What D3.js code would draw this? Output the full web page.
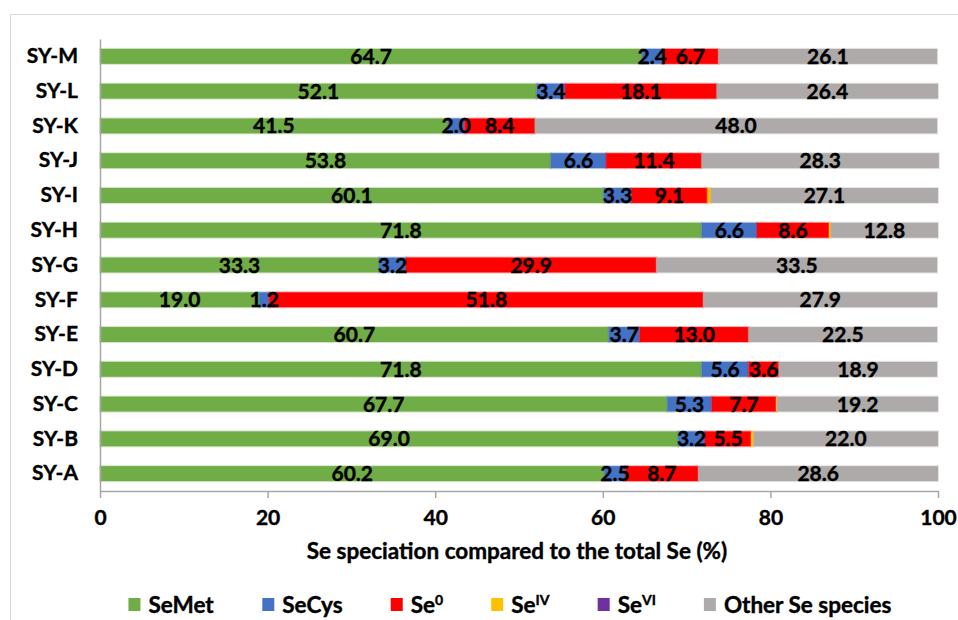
<!DOCTYPE html>
<html>
<head>
<meta charset="utf-8">
<script src="https://cdn.jsdelivr.net/npm/d3@7"></script>
<style>
  body { margin: 0; background: #fff; }
  text { font-family: Lato, "Open Sans", sans-serif; font-weight: bold; }
</style>
</head>
<body>
<svg id="chart"></svg>
<script>
// samples, top to bottom as drawn
const categories = ["SY-M", "SY-L", "SY-K", "SY-J", "SY-I", "SY-H", "SY-G", "SY-F", "SY-E", "SY-D", "SY-C", "SY-B", "SY-A"];

// % of total Se, one value per sample (same order as categories)
const seMet   = [64.7, 52.1, 41.5, 53.8, 60.1, 71.8, 33.3, 19.0, 60.7, 71.8, 67.7, 69.0, 60.2];
const seCys   = [2.4, 3.4, 2.0, 6.6, 3.3, 6.6, 3.2, 1.2, 3.7, 5.6, 5.3, 3.2, 2.5];
const se0     = [6.7, 18.1, 8.4, 11.4, 9.1, 8.6, 29.9, 51.8, 13.0, 3.6, 7.7, 5.5, 8.7];
const seIV    = [0, 0, 0, 0, 0.4, 0.2, 0, 0, 0, 0, 0.1, 0.3, 0];
const seVI    = [0, 0, 0, 0, 0, 0, 0, 0, 0, 0, 0, 0, 0];
const otherSe = [26.1, 26.4, 48.0, 28.3, 27.1, 12.8, 33.5, 27.9, 22.5, 18.9, 19.2, 22.0, 28.6];

const xTicks = [0, 20, 40, 60, 80, 100];
const xLabel = "Se speciation compared to the total Se (%)";

// series: key, legend label (base + superscript), colour, values
const series = [
  {key: "SeMet", base: "SeMet", sup: "", color: "#70ad47", values: seMet},
  {key: "SeCys", base: "SeCys", sup: "", color: "#4472c4", values: seCys},
  {key: "Se0", base: "Se", sup: "0", color: "#ff0000", values: se0},
  {key: "SeIV", base: "Se", sup: "IV", color: "#ffc000", values: seIV},
  {key: "SeVI", base: "Se", sup: "VI", color: "#7030a0", values: seVI},
  {key: "Other", base: "Other Se species", sup: "", color: "#aeaaaa", values: otherSe}
];

const width = 958, height = 620;
const marginTop = 39, marginRight = 20, marginBottom = 129, marginLeft = 100;
const fontSize = 21;

const svg = d3.select("#chart")
    .attr("width", width)
    .attr("height", height)
    .attr("viewBox", [0, 0, width, height]);

// chart area frame (only its top and left edges show)
svg.append("rect")
    .attr("x", 10.5).attr("y", 14.5)
    .attr("width", 1000).attr("height", 700)
    .attr("fill", "none")
    .attr("stroke", "#d9d9d9");

const x = d3.scaleLinear([0, 100], [marginLeft, width - marginRight]);
const y = d3.scaleBand(categories, [marginTop, height - marginBottom])
    .paddingInner(0.57)
    .paddingOuter(0.285);

// build stacked table
const table = categories.map((c, i) => {
  const row = {cat: c};
  series.forEach(s => row[s.key] = s.values[i]);
  return row;
});
const stacked = d3.stack().keys(series.map(s => s.key))(table);
const color = d3.scaleOrdinal(series.map(s => s.key), series.map(s => s.color));

svg.append("g")
  .selectAll("g")
  .data(stacked)
  .join("g")
    .attr("fill", d => color(d.key))
    .attr("stroke", d => color(d.key))
  .selectAll("rect")
  .data(d => d)
  .join("rect")
    .attr("x", d => x(d[0]))
    .attr("y", d => y(d.data.cat))
    .attr("width", d => Math.max(0, x(d[1]) - x(d[0])))
    .attr("height", y.bandwidth())
    .attr("stroke-opacity", 0.3)
    .attr("stroke-width", 2);

// value labels, centred in each segment (tiny ones hidden), drawn above all bars
svg.append("g")
  .selectAll("g")
  .data(stacked)
  .join("g")
  .selectAll("text")
  .data(d => d.filter(p => p[1] - p[0] >= 1))
  .join("text")
    .attr("x", d => (x(d[0]) + x(d[1])) / 2)
    .attr("y", d => y(d.data.cat) + y.bandwidth() / 2)
    .attr("dy", "0.36em")
    .attr("text-anchor", "middle")
    .attr("fill", "#000")
    .attr("stroke", "#000")
    .attr("stroke-width", 0.4)
    .attr("font-size", fontSize)
    .text(d => (d[1] - d[0]).toFixed(1));

// x axis
svg.append("g")
    .attr("transform", `translate(0,${height - marginBottom})`)
    .call(d3.axisBottom(x).tickValues(xTicks).tickSize(7).tickSizeOuter(0).tickPadding(12))
    .call(g => g.select(".domain").attr("stroke", "#a6a6a6").attr("stroke-width", 1.5))
    .call(g => g.selectAll(".tick line").attr("stroke", "#a6a6a6").attr("stroke-width", 1.5))
    .call(g => g.selectAll(".tick text")
        .attr("font-size", fontSize).attr("fill", "#000")
        .attr("stroke", "#000").attr("stroke-width", 0.4)
        .attr("font-family", "Lato, 'Open Sans', sans-serif"));

// y axis
svg.append("g")
    .attr("transform", `translate(${marginLeft},0)`)
    .call(d3.axisLeft(y).tickSize(0).tickPadding(22))
    .call(g => g.select(".domain").attr("stroke", "#a6a6a6").attr("stroke-width", 1.5))
    .call(g => g.selectAll(".tick text")
        .attr("font-size", fontSize).attr("fill", "#000")
        .attr("stroke", "#000").attr("stroke-width", 0.4)
        .attr("font-family", "Lato, 'Open Sans', sans-serif"));

svg.append("text")
    .attr("x", 517)
    .attr("y", 559)
    .attr("text-anchor", "middle")
    .attr("font-size", 22.5)
    .attr("stroke", "#000")
    .attr("stroke-width", 0.4)
    .text(xLabel);

// legend
const legend = svg.append("g").attr("transform", "translate(0,605)");
const items = legend.selectAll("g")
  .data(series)
  .join("g");

items.append("rect")
    .attr("y", -7)
    .attr("width", 12)
    .attr("height", 13)
    .attr("fill", d => d.color);

const labels = items.append("text")
    .attr("x", 20)
    .attr("dy", "0.36em")
    .attr("font-size", 22.5)
    .attr("stroke", "#000")
    .attr("stroke-width", 0.4);
labels.append("tspan").text(d => d.base);
labels.filter(d => d.sup).append("tspan")
    .attr("font-size", 14)
    .attr("dy", "-0.6em")
    .text(d => d.sup);

// lay items out side by side, centred
let pos = 0;
const gap = 48;
const offsets = [];
labels.each(function() {
  const w = 20 + this.getBBox().width;
  offsets.push(pos);
  pos += w + gap;
});
const total = pos - gap;
const start = 510 - total / 2;
items.attr("transform", (d, i) => `translate(${start + offsets[i]},0)`);
</script>
</body>
</html>
